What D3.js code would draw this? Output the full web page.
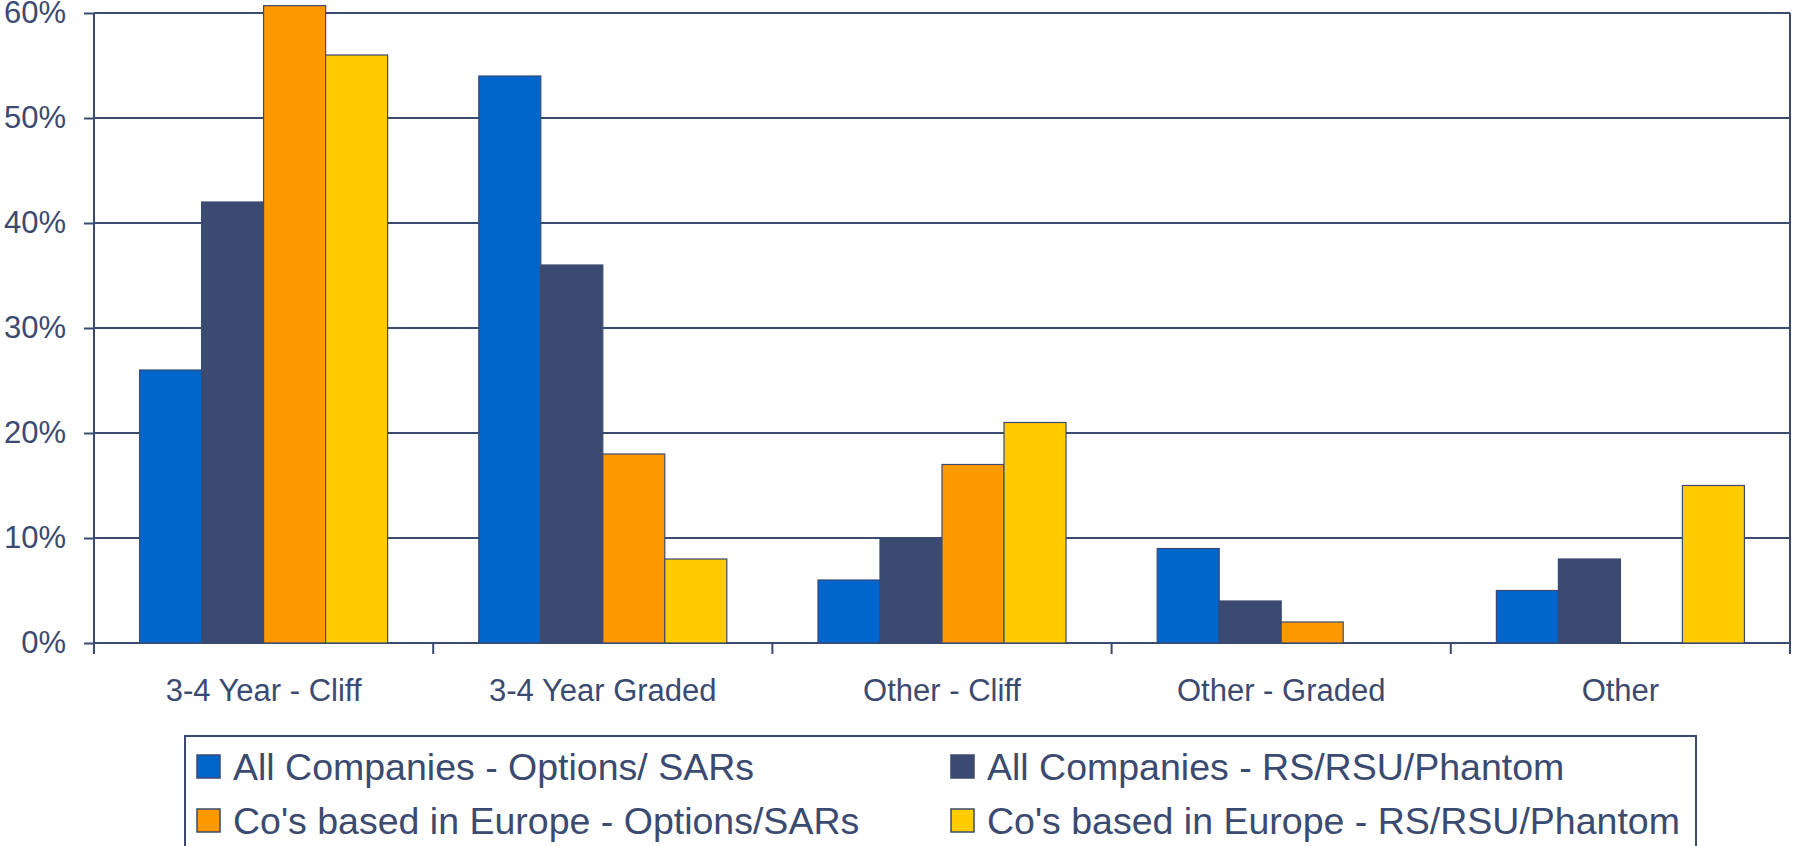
<!DOCTYPE html>
<html>
<head>
<meta charset="utf-8">
<script src="https://cdn.jsdelivr.net/npm/d3@7"></script>
<style>
  html, body { margin: 0; padding: 0; background: #fff; overflow: hidden; }
  text { font-family: "Liberation Sans", Arial, sans-serif; fill: #3b4a70; }
</style>
</head>
<body>
<div id="graph"></div>
<script>
// datos (porcentajes)
const categorias = ["3-4 Year - Cliff", "3-4 Year Graded", "Other - Cliff", "Other - Graded", "Other"];
const series = [
  "All Companies - Options/ SARs",
  "All Companies - RS/RSU/Phantom",
  "Co's based in Europe - Options/SARs",
  "Co's based in Europe - RS/RSU/Phantom"
];
const opcionesTodas = [26, 54, 6, 9, 5];
const rsTodas = [42, 36, 10, 4, 8];
const opcionesEuropa = [60.7, 18, 17, 2, 0];
const rsEuropa = [56, 8, 21, 0, 15];
const ticksY = [0, 10, 20, 30, 40, 50, 60];
const colores = ["#0066cc", "#3b4a70", "#ff9900", "#ffcc00"];

const valores = [opcionesTodas, rsTodas, opcionesEuropa, rsEuropa];
const navy = "#3b4a70";

const width = 1793, height = 846;
const margin = { left: 94, right: 3, top: 13, bottom: 203 };

const svg = d3.select("#graph").append("svg")
  .attr("width", width)
  .attr("height", height);

const x0 = d3.scaleBand()
  .domain(categorias)
  .range([margin.left, width - margin.right])
  .paddingInner(0).paddingOuter(0);

const x1 = d3.scaleBand()
  .domain(series)
  .range([0, x0.bandwidth()])
  .paddingInner(0)
  .paddingOuter(0.735);

const y = d3.scaleLinear()
  .domain([0, 60])
  .range([height - margin.bottom, margin.top]);

// líneas de cuadrícula
svg.append("g")
  .selectAll("line")
  .data(ticksY)
  .enter().append("line")
  .attr("x1", margin.left)
  .attr("x2", width - margin.right)
  .attr("y1", d => y(d))
  .attr("y2", d => y(d))
  .attr("stroke", navy)
  .attr("stroke-width", 2);

// barras
const filas = [];
categorias.forEach((c, i) => {
  series.forEach((s, j) => {
    filas.push({ cat: c, serie: s, valor: valores[j][i], color: colores[j] });
  });
});

svg.append("g")
  .selectAll("rect")
  .data(filas.filter(d => d.valor > 0))
  .enter().append("rect")
  .attr("x", d => x0(d.cat) + x1(d.serie))
  .attr("y", d => y(d.valor))
  .attr("width", x1.bandwidth())
  .attr("height", d => y(0) - y(d.valor))
  .attr("fill", d => d.color)
  .attr("stroke", navy)
  .attr("stroke-width", 1.2);

// eje Y
const ejeY = svg.append("g")
  .attr("transform", `translate(${margin.left},0)`)
  .call(d3.axisLeft(y).tickValues(ticksY).tickFormat(d => d + "%").tickSize(10).tickSizeOuter(0).tickPadding(18));
ejeY.select(".domain").remove();
ejeY.selectAll(".tick line").attr("stroke", navy).attr("stroke-width", 2);
ejeY.selectAll("text").attr("font-size", 31).style("fill", navy);

// línea vertical izquierda y derecha
[margin.left, width - margin.right].forEach(xx => {
  svg.append("line")
    .attr("x1", xx).attr("x2", xx)
    .attr("y1", y(60)).attr("y2", y(0) + 11)
    .attr("stroke", navy).attr("stroke-width", 2);
});

// eje X
const ejeX = svg.append("g")
  .attr("transform", `translate(0,${y(0)})`)
  .call(d3.axisBottom(x0).tickSize(0).tickPadding(36));
ejeX.select(".domain").remove();
ejeX.selectAll("text").attr("font-size", 31).style("fill", navy);

// marcas entre categorías
svg.append("g")
  .selectAll("line")
  .data(categorias.slice(1))
  .enter().append("line")
  .attr("x1", d => x0(d)).attr("x2", d => x0(d))
  .attr("y1", y(0)).attr("y2", y(0) + 11)
  .attr("stroke", navy).attr("stroke-width", 2);

// leyenda
const leyenda = svg.append("g");
leyenda.append("rect")
  .attr("x", 185).attr("y", 736)
  .attr("width", 1511).attr("height", 140)
  .attr("fill", "#fff")
  .attr("stroke", navy).attr("stroke-width", 2);

const posLeyenda = [[197, 780], [951, 780], [197, 834], [951, 834]];
series.forEach((s, i) => {
  const [lx, ly] = posLeyenda[i];
  leyenda.append("rect")
    .attr("x", lx).attr("y", ly - 25)
    .attr("width", 23).attr("height", 23)
    .attr("fill", colores[i])
    .attr("stroke", navy).attr("stroke-width", 1.5);
  leyenda.append("text")
    .attr("x", lx + 36).attr("y", ly)
    .attr("font-size", 37.5)
    .text(s);
});
</script>
</body>
</html>
